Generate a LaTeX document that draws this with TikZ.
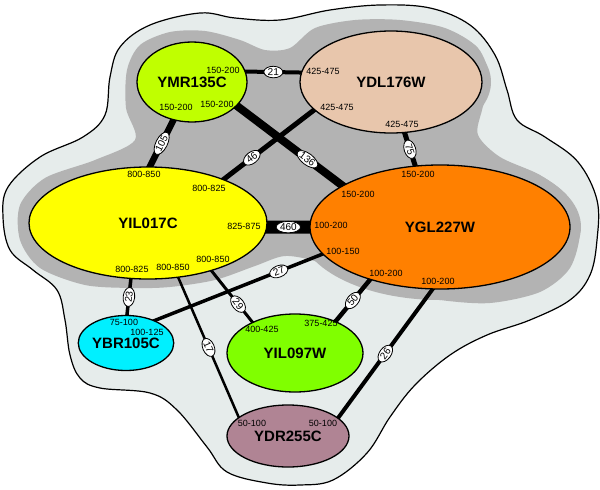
\documentclass[tikz,border=0pt]{standalone}
\usepackage{fontspec}
\setmainfont{Liberation Sans}
\usetikzlibrary{shapes.geometric}
\pgfdeclarelayer{blob}
\pgfdeclarelayer{edge}
\pgfsetlayers{blob,edge,main}
\definecolor{bglight}{RGB}{230,236,235}
\definecolor{bgdark}{RGB}{179,179,179}
\definecolor{ymrcol}{RGB}{192,255,0}
\definecolor{ydlcol}{RGB}{232,198,172}
\definecolor{yilcol}{RGB}{255,255,0}
\definecolor{yglcol}{RGB}{255,128,0}
\definecolor{ybrcol}{RGB}{0,240,255}
\definecolor{ynwcol}{RGB}{128,255,0}
\definecolor{ydrcol}{RGB}{176,132,148}
\tikzset{
    gene/.style={ellipse, draw=black, line width=1.3pt, inner sep=0pt, font=\fontsize{15}{18}\selectfont\bfseries},
    port/.style={inner sep=0pt, font=\fontsize{9}{10}\selectfont},
    weight/.style={ellipse, draw=black, fill=white, line width=0.8pt, inner sep=0.3pt, minimum width=19pt, minimum height=11.5pt, sloped, font=\fontsize{10}{11}\selectfont},
    link/.style={draw=black, shorten <=-4pt, shorten >=-4pt}
}

\begin{document}
\begin{tikzpicture}[x=1pt, y=-1pt]
            \useasboundingbox (0,0) rectangle (600,490);

            \begin{pgfonlayer}{blob}
            \draw [fill=bglight, line width=1.2pt] plot [smooth cycle, tension=0.6] coordinates {(200,13) (235,18) (280,20) (330,10) (380,5) (430,8) (470,25) (495,55) (507,90) (517,120) (545,137) (578,162) (597,200) (597,240) (590,275) (570,300) (530,320) (487,335) (450,355) (415,385) (390,417) (367,453) (333,480) (300,485) (267,483) (227,472) (207,447) (177,410) (150,393) (100,388) (80,378) (70,355) (65,320) (57,290) (33,270) (10,250) (3,217) (8,187) (40,157) (83,137) (105,115) (110,77) (120,47) (150,25)};
            \fill [bgdark] plot [smooth cycle, tension=0.5] coordinates {(133,288) (85,285) (40,268) (20,240) (20,205) (45,178) (95,160) (135,140) (126,108) (127,70) (140,45) (170,32) (205,31) (240,40) (265,50) (290,48) (315,28) (355,20) (400,20) (445,28) (478,48) (490,80) (482,110) (478,135) (500,157) (540,175) (568,197) (580,230) (570,268) (540,292) (490,303) (440,300) (385,290) (345,276) (318,262) (285,256) (255,266) (215,280) (170,287)};
            \fill [bgdark] (192,82) ellipse [x radius=65pt, y radius=50pt];
            \fill [bgdark] (391,82) ellipse [x radius=100pt, y radius=60pt];
            \fill [bgdark] (148,222) ellipse [x radius=127pt, y radius=64pt];
            \fill [bgdark] (440,227) ellipse [x radius=141pt, y radius=73pt];
            \end{pgfonlayer}

            \node [gene, fill=ymrcol, minimum width=110pt, minimum height=80pt] (ymr) at (192,82) {YMR135C};
            \node [gene, fill=ydlcol, minimum width=182pt, minimum height=102pt] (ydl) at (391,82) {YDL176W};
            \node [gene, fill=yilcol, minimum width=238pt, minimum height=112pt] (yil) at (148,223) {YIL017C};
            \node [gene, fill=yglcol, minimum width=260pt, minimum height=124pt] (ygl) at (440,227) {YGL227W};
            \node [gene, fill=ybrcol, minimum width=94pt, minimum height=55pt] (ybr) at (126,343) {YBR105C};
            \node [gene, fill=ynwcol, minimum width=136pt, minimum height=78pt] (ynw) at (295,353) {YIL097W};
            \node [gene, fill=ydrcol, minimum width=122pt, minimum height=62pt] (ydr) at (288,436) {YDR255C};

            \begin{pgfonlayer}{edge}
            \draw [link, line width=4pt] (ymr.11) -- node [weight] (w21) {21} (ydl.174);
            \draw [link, line width=6.5pt] (ymr.244) -- node [weight] (w105) {105} (yil.88);
            \draw [link, line width=8pt] (ymr.332) -- node [weight, pos=0.67] (w136) {136} (ygl.157);
            \draw [link, line width=5pt] (ydl.200) -- node [weight, pos=0.69] (w46) {46} (yil.30);
            \draw [link, line width=5pt] (ydl.285) -- node [weight] (w75) {75} (ygl.112);
            \draw [link, line width=13pt] (yil.-2) -- node [weight] (w460) {460} (ygl.180);
            \draw [link, line width=3.5pt] (ybr.38) -- node [weight, pos=0.74] (w27) {27} (ygl.193);
            \draw [link, line width=3.5pt] (yil.253) -- node [weight] (w23) {23} (ybr.88);
            \draw [link, line width=3pt] (yil.323) -- node [weight, pos=0.65] (w29) {29} (ynw.144);
            \draw [link, line width=2.5pt] (yil.299) -- node [weight] (w17) {17} (ydr.159);
            \draw [link, line width=4.5pt] (ygl.217) -- node [weight] (w50) {50} (ynw.38);
            \draw [link, line width=4pt] (ygl.263) -- node [weight] (w26) {26} (ydr.20);
            \end{pgfonlayer}

            \node [port] (ymr-ydl) at (223,70) {150-200};
            \node [port] (ymr-yil) at (176,107) {150-200};
            \node [port] (ymr-ygl) at (217,104) {150-200};
            \node [port] (ydl-ymr) at (323,71) {425-475};
            \node [port] (ydl-yil) at (337,107) {425-475};
            \node [port] (ydl-ygl) at (402,124) {425-475};
            \node [port] (yil-ymr) at (144,174) {800-850};
            \node [port] (yil-ydl) at (209,188) {800-825};
            \node [port] (yil-ygl) at (244,226) {825-875};
            \node [port] (yil-ybr) at (132,269) {800-825};
            \node [port] (yil-ydr) at (173,267) {800-850};
            \node [port] (yil-ynw) at (213,259) {800-850};
            \node [port] (ygl-ydl) at (418,174) {150-200};
            \node [port] (ygl-ymr) at (358,194) {150-200};
            \node [port] (ygl-yil) at (331,225) {100-200};
            \node [port] (ygl-ybr) at (343,251) {100-150};
            \node [port] (ygl-ynw) at (386,273) {100-200};
            \node [port] (ygl-ydr) at (438,281) {100-200};
            \node [port] (ybr-yil) at (124,322) {75-100};
            \node [port] (ybr-ygl) at (147,332) {100-125};
            \node [port] (ynw-yil) at (262,329) {400-425};
            \node [port] (ynw-ygl) at (321,323) {375-425};
            \node [port] (ydr-yil) at (252,423) {50-100};
            \node [port] (ydr-ygl) at (323,423) {50-100};
\end{tikzpicture}
\end{document}
